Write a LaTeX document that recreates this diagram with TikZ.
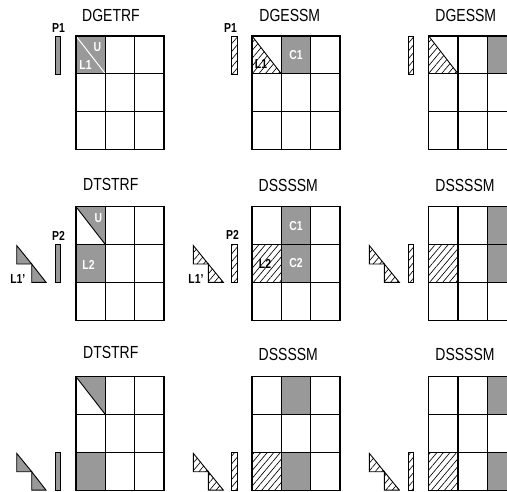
\documentclass[tikz,border=0pt]{standalone}
\usepackage{fontspec}
\setmainfont{Liberation Sans}[FakeStretch=0.8]
\usetikzlibrary{patterns.meta}
\definecolor{tilegray}{gray}{0.6}

\begin{document}
\begin{tikzpicture}[
  x=1pt, y=-1pt,
  cell/.style={draw, line width=1.2pt},
  solid tile/.style={fill=tilegray},
  hatched/.style={pattern={Lines[angle=50, distance=5pt, line width=0.65pt]}},
  pivot/.style={draw, line width=0.9pt},
  tri/.style={draw, line width=0.9pt},
  title/.style={font=\fontsize{17.5}{18}\selectfont, inner sep=0pt},
  tag/.style={font=\fontsize{13}{13}\selectfont\bfseries, inner sep=0pt},
  wtag/.style={tag, text=white}
]
\useasboundingbox (0,0) rectangle (507,491);
\clip (0,0) rectangle (507,491);

% row 1: DGETRF
\begin{scope}[shift={(76,36)}]
  \fill[solid tile] (0,0) rectangle (29.33,37.8);
  \draw[white, line width=1pt] (0,0) -- (29.33,37.8);
  \node[wtag] (u1) at (21.5,11.5) {U};
  \node[wtag] (l1) at (9.5,29) {L1};
  \draw[pivot, solid tile] (-20.3,0.7) rectangle (-15.3,38);
  \node[tag] (p1) at (-17.5,-8) {P1};
  \node[title] (t1) at (35,-20.5) {DGETRF};
\end{scope}

% row 1: DGESSM
\begin{scope}[shift={(252,36)}]
  \fill[hatched] (0,0) -- (0,37.8) -- (29.33,37.8) -- cycle;
  \draw[line width=0.9pt] (0,0) -- (29.33,37.8);
  \node[tag] (l1b) at (9,28) {L1};
  \fill[solid tile] (58.66,0) rectangle (29.33,37.8);
  \node[wtag] (c1b) at (44,19.5) {C1};
  \draw[pivot, hatched] (-20.3,0.7) rectangle (-14.7,38);
  \node[tag] (p1b) at (-21.5,-8) {P1};
  \node[title] (t2) at (37.8,-20.5) {DGESSM};
\end{scope}

% row 1: DGESSM, next column
\begin{scope}[shift={(428.7,36)}]
  \fill[hatched] (0,0) -- (0,37.8) -- (29.33,37.8) -- cycle;
  \draw[line width=0.9pt] (0,0) -- (29.33,37.8);
  \fill[solid tile] (58.66,0) rectangle (88,37.8);
  \draw[pivot, hatched] (-20.4,0.7) rectangle (-15.4,38);
  \node[title] (t3) at (37.1,-20.5) {DGESSM};
\end{scope}

% row 2: DTSTRF
\begin{scope}[shift={(76,206.7)}]
  \fill[solid tile] (0,0) -- (29.33,0) -- (29.33,37.8) -- cycle;
  \draw[line width=0.9pt] (0,0) -- (29.33,37.8);
  \node[wtag] (u4) at (22.3,11.3) {U};
  \fill[solid tile] (0,37.8) rectangle (29.33,75.6);
  \node[wtag] (l2) at (12.5,58.3) {L2};
  \draw[pivot, solid tile] (-20.3,37.8) rectangle (-15.3,75.6);
  \node[tag] (p2) at (-17.5,29) {P2};
  \draw[tri, solid tile] (-59.3,38.8) -- (-59.3,57.3) -- (-44.3,57.3) -- cycle;
  \draw[tri, solid tile] (-44.3,57.3) -- (-44.3,75.6) -- (-30,75.6) -- cycle;
  \node[tag] (l1p) at (-58.2,72.5) {L1'};
  \node[title] (t4) at (34.8,-22) {DTSTRF};
\end{scope}

% row 2: DSSSSM
\begin{scope}[shift={(252,206.7)}]
  \fill[solid tile] (29.33,0) rectangle (58.66,75.6);
  \node[wtag] (c1e) at (44,19.5) {C1};
  \node[wtag] (c2e) at (44,56.8) {C2};
  \fill[hatched] (0,37.8) rectangle (29.33,75.6);
  \node[tag] (l2e) at (13,56.8) {L2};
  \draw[pivot, hatched] (-20.3,37.8) rectangle (-14.7,75.6);
  \node[tag] (p2e) at (-19.5,28) {P2};
  \draw[tri, hatched] (-58.7,38.8) -- (-58.7,57.3) -- (-43.7,57.3) -- cycle;
  \draw[tri, hatched] (-43.7,57.3) -- (-43.7,75.6) -- (-28.7,75.6) -- cycle;
  \node[tag] (l1e) at (-56,72.5) {L1'};
  \node[title] (t5) at (36.3,-21) {DSSSSM};
\end{scope}

% row 2: DSSSSM, next column
\begin{scope}[shift={(428.7,206.7)}]
  \fill[solid tile] (58.66,0) rectangle (88,75.6);
  \fill[hatched] (0,37.8) rectangle (29.33,75.6);
  \draw[pivot, hatched] (-20.4,37.8) rectangle (-15.4,75.6);
  \draw[tri, hatched] (-59.4,38.8) -- (-59.4,57.3) -- (-44.4,57.3) -- cycle;
  \draw[tri, hatched] (-44.4,57.3) -- (-44.4,75.6) -- (-29.4,75.6) -- cycle;
  \node[title] (t6) at (36.3,-21) {DSSSSM};
\end{scope}

% row 3: DTSTRF
\begin{scope}[shift={(76,376.7)}]
  \fill[solid tile] (0,0) -- (29.33,0) -- (29.33,37.8) -- cycle;
  \draw[line width=0.9pt] (0,0) -- (29.33,37.8);
  \fill[solid tile] (0,75.6) rectangle (29.33,113.4);
  \draw[pivot, solid tile] (-20.3,75.6) rectangle (-15.3,113.4);
  \draw[tri, solid tile] (-59.3,76.6) -- (-59.3,95) -- (-44.3,95) -- cycle;
  \draw[tri, solid tile] (-44.3,95) -- (-44.3,113.4) -- (-30,113.4) -- cycle;
  \node[title] (t7) at (34.8,-24.5) {DTSTRF};
\end{scope}

% row 3: DSSSSM
\begin{scope}[shift={(252,376.7)}]
  \fill[solid tile] (29.33,0) rectangle (58.66,37.8);
  \fill[solid tile] (29.33,75.6) rectangle (58.66,113.4);
  \fill[hatched] (0,75.6) rectangle (29.33,113.4);
  \draw[pivot, hatched] (-20.3,75.6) rectangle (-14.7,113.4);
  \draw[tri, hatched] (-58.7,76.6) -- (-58.7,95) -- (-43.7,95) -- cycle;
  \draw[tri, hatched] (-43.7,95) -- (-43.7,113.4) -- (-28.7,113.4) -- cycle;
  \node[title] (t8) at (36.3,-22.5) {DSSSSM};
\end{scope}

% row 3: DSSSSM, next column
\begin{scope}[shift={(428.7,376.7)}]
  \fill[solid tile] (58.66,0) rectangle (88,37.8);
  \fill[solid tile] (58.66,75.6) rectangle (88,113.4);
  \fill[hatched] (0,75.6) rectangle (29.33,113.4);
  \draw[pivot, hatched] (-20.4,75.6) rectangle (-15.4,113.4);
  \draw[tri, hatched] (-59.4,76.6) -- (-59.4,95) -- (-44.4,95) -- cycle;
  \draw[tri, hatched] (-44.4,95) -- (-44.4,113.4) -- (-29.4,113.4) -- cycle;
  \node[title] (t9) at (36.3,-22.5) {DSSSSM};
\end{scope}

% 3x3 block grids
\foreach \px in {76,252,428.7}
  \foreach \py in {36,206.7,376.7}
    \foreach \i in {0,1,2}
      \foreach \j in {0,1,2}
        \draw[cell] (\px+\j*29.33, \py+\i*37.8) rectangle ++(29.33,37.8);
\end{tikzpicture}
\end{document}
